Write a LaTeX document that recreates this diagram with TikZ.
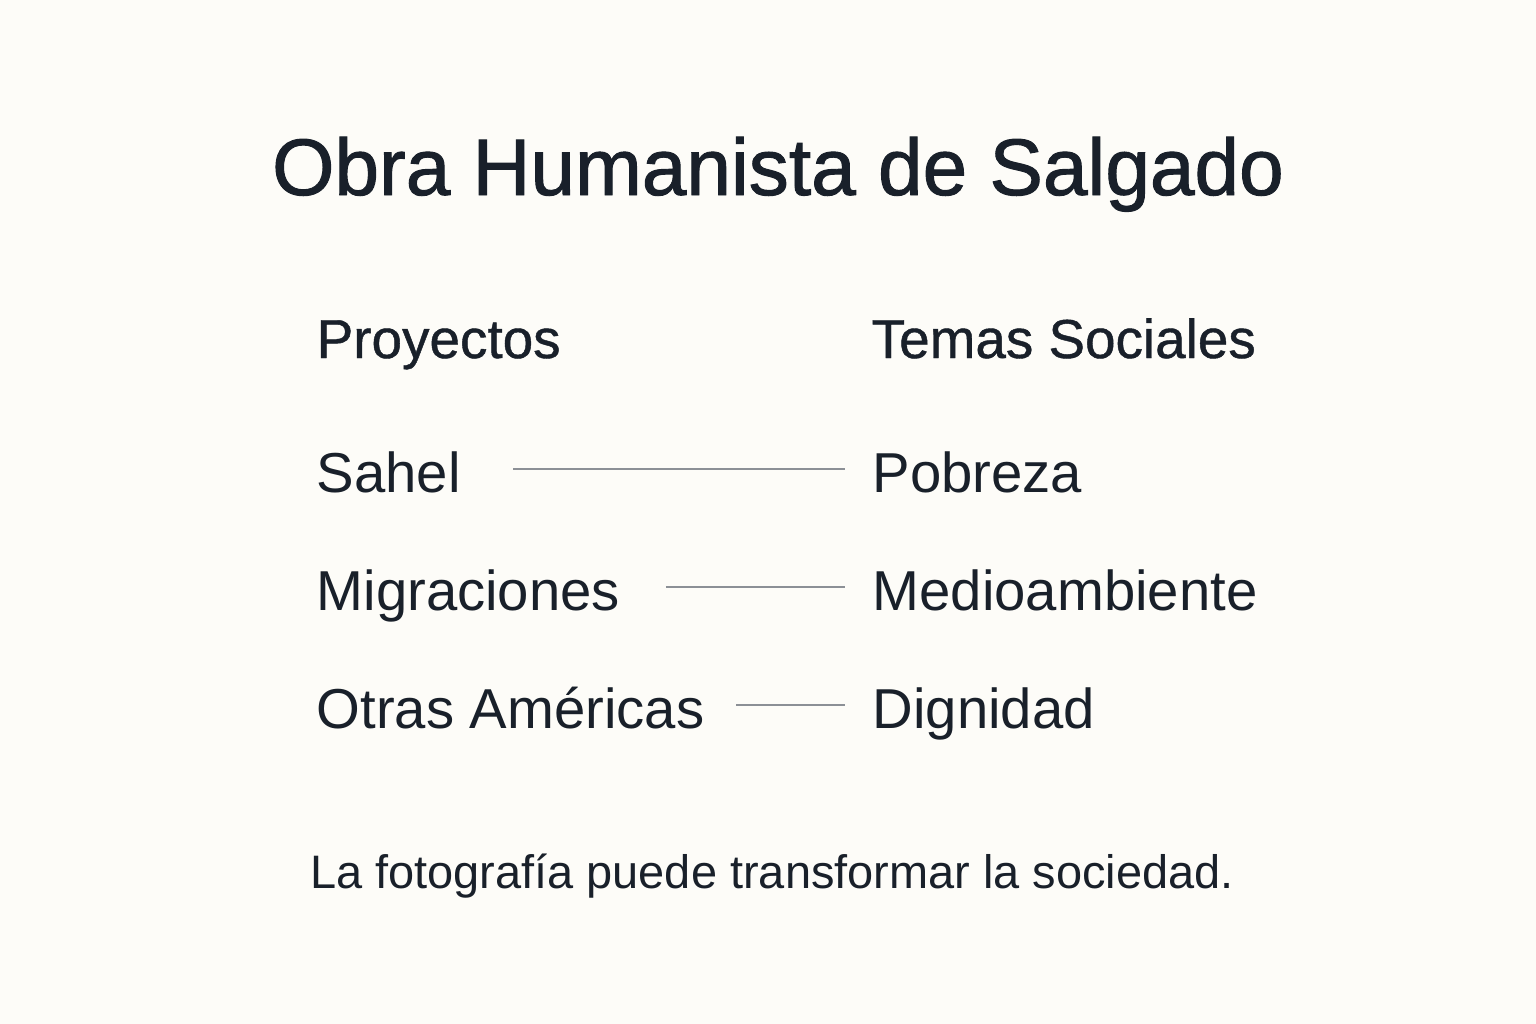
\documentclass[tikz,border=0pt]{standalone}
\usepackage{fontspec}
\setmainfont{Liberation Sans}
\newfontfamily\medfont[FakeBold=1.2]{Liberation Sans}
\newfontfamily\semifont[FakeBold=0.8]{Liberation Sans}
\definecolor{bg}{HTML}{FDFCF8}
\definecolor{ink}{HTML}{19202A}
\definecolor{rule}{HTML}{8C9096}
\begin{document}
\begin{tikzpicture}[x=0.01cm,y=-0.01cm,
  txt/.style={inner sep=0pt,anchor=base west,text=ink},
  title/.style={inner sep=0pt,anchor=base,text=ink,font=\medfont\fontsize{22.8pt}{27pt}\selectfont},
  head/.style={txt,font=\semifont\fontsize{15.6pt}{19pt}\selectfont},
  item/.style={txt,font=\fontsize{16pt}{19pt}\selectfont,text height=0.46cm,text depth=0pt},
  foot/.style={inner sep=0pt,anchor=base,text=ink,font=\fontsize{13.35pt}{16pt}\selectfont},
  link/.style={draw=rule,line width=0.6pt}]
\fill[bg] (0,0) rectangle (1536,1024);
\useasboundingbox (0,0) rectangle (1536,1024);
\node[title] (title) at (778,195) {Obra Humanista de Salgado};
\node[head] (hp) at (316,358) {Proyectos};
\node[head] (ht) at (871,358) {Temas Sociales};
\node[item] (p1) at (316,492) {Sahel};
\node[item] (p2) at (316,610) {Migraciones};
\node[item] (p3) at (316,728) {Otras Américas};
\node[item] (t1) at (872,492) {Pobreza};
\node[item] (t2) at (872,610) {Medioambiente};
\node[item] (t3) at (872,728) {Dignidad};
\draw[link] ([xshift=52*0.01cm]p1.east) -- ([xshift=-27*0.01cm]t1.west);
\draw[link] ([xshift=45*0.01cm]p2.east) -- ([xshift=-27*0.01cm]t2.west);
\draw[link] ([xshift=31*0.01cm]p3.east) -- ([xshift=-27*0.01cm]t3.west);
\node[foot] (foot) at (772,888) {La fotografía puede transformar la sociedad.};
\end{tikzpicture}
\end{document}
